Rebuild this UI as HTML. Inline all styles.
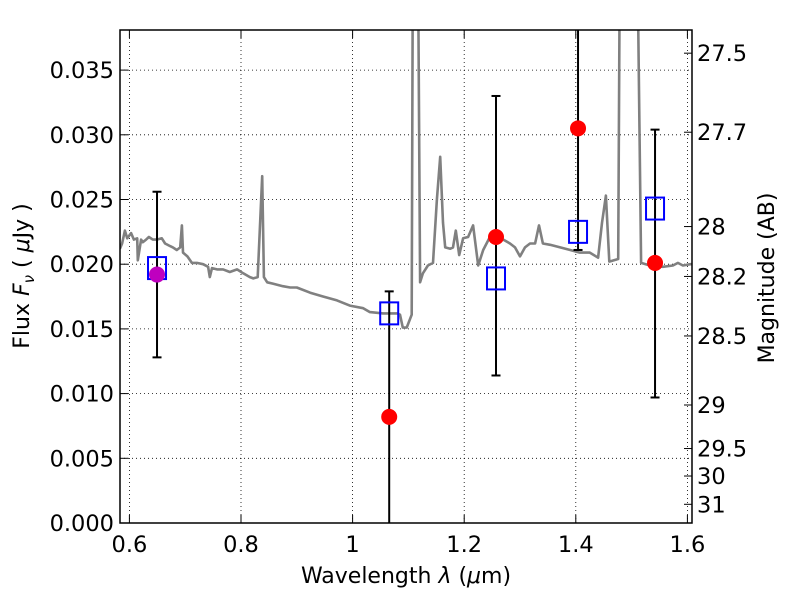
<!DOCTYPE html>
<html><head><meta charset="utf-8"><style>
html,body{margin:0;padding:0;background:#fff;width:800px;height:600px;overflow:hidden;}
svg{display:block;font-family:"DejaVu Sans","Liberation Sans",sans-serif;}
</style></head><body>
<svg id="chart" width="800" height="600" viewBox="0 0 800 600" xmlns="http://www.w3.org/2000/svg">
<defs><clipPath id="clip"><rect x="120" y="30" width="572" height="493"/></clipPath></defs>
<g id="grid"></g>
<g id="spec" clip-path="url(#clip)"></g>
<g id="marks" clip-path="url(#clip)"></g>
<rect x="120" y="30" width="572" height="493" fill="none" stroke="#000" stroke-width="1.5"/>
<g id="axes"></g>
<text x="406" y="583" font-size="22" text-anchor="middle">Wavelength  <tspan font-style="italic">λ</tspan> (<tspan font-style="italic">μ</tspan>m)</text>
<text transform="translate(29,276) rotate(-90)" font-size="22" text-anchor="middle">Flux  <tspan font-style="italic">F<tspan font-size="15" dy="5">ν</tspan></tspan><tspan dy="-5">  ( </tspan><tspan font-style="italic">μ</tspan>Jy )</text>
<text transform="translate(774,278) rotate(-90)" font-size="22" text-anchor="middle">Magnitude (AB)</text>
</svg>
<script>
const specLam=[0.583,0.587,0.592,0.596,0.603,0.608,0.614,0.615,0.621,0.624,0.630,0.635,0.642,0.649,0.658,0.664,0.673,0.678,0.685,0.691,0.694,0.696,0.704,0.712,0.721,0.732,0.741,0.744,0.748,0.757,0.768,0.780,0.793,0.804,0.816,0.822,0.830,0.838,0.841,0.847,0.857,0.875,0.888,0.900,0.924,0.947,0.972,0.995,1.019,1.031,1.054,1.080,1.085,1.090,1.097,1.106,1.108,1.117,1.121,1.126,1.135,1.144,1.151,1.157,1.162,1.166,1.175,1.180,1.185,1.191,1.198,1.207,1.216,1.225,1.234,1.246,1.259,1.270,1.282,1.291,1.300,1.309,1.318,1.327,1.334,1.341,1.354,1.372,1.390,1.407,1.425,1.440,1.447,1.454,1.460,1.476,1.479,1.510,1.517,1.533,1.556,1.574,1.583,1.592,1.605,1.610];
const specFlux=[21.2,21.6,22.6,22.0,22.4,21.9,22.0,20.3,21.9,21.7,21.9,22.1,21.9,21.9,22.0,21.6,21.4,21.3,21.1,21.3,23.0,20.9,20.6,20.1,20.1,20.0,19.8,19.0,19.7,19.6,19.6,19.4,19.6,19.3,19.0,18.9,19.0,26.8,19.0,18.6,18.5,18.3,18.2,18.2,17.8,17.5,17.2,16.8,16.6,16.3,16.2,16.2,16.1,15.1,15.1,16.1,45,45,18.6,19.3,19.9,20.1,25.0,28.3,23.2,21.3,21.2,21.3,22.6,20.7,22.0,22.1,23.0,19.9,21.1,22.1,22.0,21.9,21.6,21.3,20.6,21.3,21.6,21.6,23.0,21.6,21.5,21.3,21.1,20.9,20.9,20.5,23.2,25.3,20.2,20.4,45,45,20.1,19.9,19.8,19.9,20.1,19.9,20.0,20.0];
const bandLam=[0.6495,1.0656,1.257,1.404,1.542];
const obsFlux=[0.0192,0.0082,0.0221,0.0305,0.0201];
const errLo=[0.0128,-0.01,0.0114,0.0211,0.0097];
const errHi=[0.0256,0.0179,0.0330,0.045,0.0304];
const modelFlux=[0.0197,0.0162,0.0189,0.0225,0.0243];
const xTicks=[0.6,0.8,1.0,1.2,1.4,1.6];
const xTickLabels=["0.6","0.8","1","1.2","1.4","1.6"];
const yTicks=[0,0.005,0.010,0.015,0.020,0.025,0.030,0.035];
const yTickLabels=["0.000","0.005","0.010","0.015","0.020","0.025","0.030","0.035"];
const magTicks=[27.5,27.7,28,28.2,28.5,29,29.5,30,31];
const magTickLabels=["27.5","27.7","28","28.2","28.5","29","29.5","30","31"];

const NS="http://www.w3.org/2000/svg";
function X(l){return 352.6+(l-1)*558;}
function Y(f){return 523-f*12940;}
function magToFlux(m){return Math.pow(10,(23.9-m)/2.5);}
function mk(tag,attrs,parent){const e=document.createElementNS(NS,tag);for(const k in attrs)e.setAttribute(k,attrs[k]);parent.appendChild(e);return e;}
const grid=document.getElementById('grid'),axes=document.getElementById('axes'),spec=document.getElementById('spec'),marks=document.getElementById('marks');

xTicks.forEach((t,i)=>{const x=X(t);
 const g=mk('line',{x1:x,x2:x,y1:30,y2:523,stroke:'#000','stroke-width':0.8,'stroke-dasharray':'1,3'},grid);
 
 const a=mk('line',{x1:x,x2:x,y1:523,y2:515,stroke:'#000'},axes);
 const b=mk('line',{x1:x,x2:x,y1:30,y2:38,stroke:'#000'},axes);
 const tx=mk('text',{x:x,y:552,'font-size':22.5,'text-anchor':'middle'},axes);tx.textContent=xTickLabels[i];
 
});
yTicks.forEach((t,i)=>{const y=Y(t);
 const g=mk('line',{x1:120,x2:692,y1:y,y2:y,stroke:'#000','stroke-width':0.8,'stroke-dasharray':'1,3'},grid);
 
 const a=mk('line',{x1:120,x2:128,y1:y,y2:y,stroke:'#000'},axes);
 const tx=mk('text',{x:114,y:y+8,'font-size':22.5,'text-anchor':'end'},axes);tx.textContent=yTickLabels[i];
 
});
magTicks.forEach((m,i)=>{const y=Y(magToFlux(m));
 const a=mk('line',{x1:684,x2:692,y1:y,y2:y,stroke:'#000'},axes);
 const tx=mk('text',{x:697,y:y+8,'font-size':22.5},axes);tx.textContent=magTickLabels[i];
 
});

let d='';specLam.forEach((l,i)=>{d+=(i?'L':'M')+X(l).toFixed(1)+','+Y(specFlux[i]/1000).toFixed(1);});
const p=mk('path',{d:d,fill:'none',stroke:'#808080','stroke-width':2.6,'stroke-linejoin':'round'},spec);


bandLam.forEach((l,i)=>{const x=X(l);
 const e=mk('line',{x1:x,x2:x,y1:Y(errLo[i]),y2:Y(errHi[i]),stroke:'#000','stroke-width':2},marks);
 
 [errLo[i],errHi[i]].forEach(v=>{const c=mk('line',{x1:x-4.5,x2:x+4.5,y1:Y(v),y2:Y(v),stroke:'#000','stroke-width':2},marks);
  });
 const s=mk('rect',{x:x-9,y:Y(modelFlux[i])-11,width:18,height:22,fill:'none',stroke:'#0000ff','stroke-width':2},marks);
 
 const c=mk('circle',{cx:x,cy:Y(obsFlux[i]),r:8,fill:i===0?'#bf00bf':'#ff0000'},marks);
 
});
</script>
</body></html>
